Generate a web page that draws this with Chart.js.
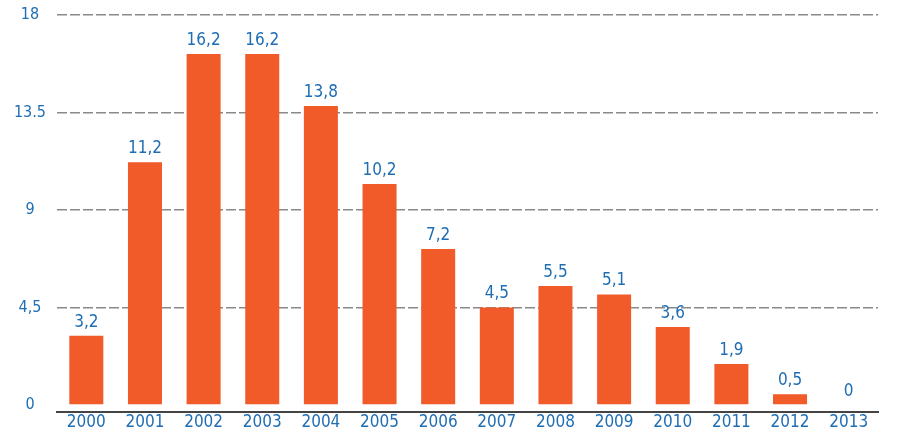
<!DOCTYPE html>
<html>
<head>
<meta charset="utf-8">
<script src="https://cdn.jsdelivr.net/npm/chart.js@4/dist/chart.umd.min.js"></script>
<style>
  html, body { margin: 0; padding: 0; background: #fff; }
  #wrap { width: 900px; height: 445px; }
</style>
</head>
<body>
<div id="wrap"><canvas id="bars"></canvas></div>
<script>
// data
const years = ['2000','2001','2002','2003','2004','2005','2006','2007','2008','2009','2010','2011','2012','2013'];
const values = [3.2, 11.2, 16.2, 16.2, 13.8, 10.2, 7.2, 4.5, 5.5, 5.1, 3.6, 1.9, 0.5, 0];
const tickValues = [0, 4.5, 9, 13.5, 18];
const tickLabels = ['0', '4,5', '9', '13.5', '18'];

const orange = '#f15a29';
const blue = '#1f6db3';
const font = "'Liberation Sans Narrow', 'DejaVu Sans Condensed', sans-serif";

// value labels above the bars, comma as decimal mark
const valueLabels = {
  id: 'valueLabels',
  afterDatasetsDraw(chart) {
    let ctx = chart.ctx;
    let meta = chart.getDatasetMeta(0);
    ctx.save();
    ctx.fillStyle = blue;
    ctx.font = '17px ' + font;
    ctx.textAlign = 'center';
    ctx.textBaseline = 'bottom';
    meta.data.forEach(function(bar, i) {
      let txt = String(values[i]).replace('.', ',');
      ctx.fillText(txt, bar.x, bar.y - 5);
    });
    ctx.restore();
  }
};

let ctx = document.getElementById('bars').getContext('2d');
let chart = new Chart(ctx, {
  type: 'bar',
  data: {
    labels: years,
    datasets: [{
      data: values,
      backgroundColor: orange,
      borderWidth: 0,
      barPercentage: 0.58,
      categoryPercentage: 1
    }]
  },
  options: {
    responsive: true,
    maintainAspectRatio: false,
    animation: false,
    layout: { padding: { top: 14, right: 22, left: 0, bottom: 11 } },
    plugins: {
      legend: { display: false },
      tooltip: { enabled: false }
    },
    scales: {
      x: {
        grid: { display: false, drawTicks: false, tickLength: 0 },
        border: { display: true, color: '#444', width: 2 },
        ticks: { color: blue, font: { family: font, size: 17 }, padding: 1, maxRotation: 0 }
      },
      y: {
        min: -0.3,
        max: 18,
        afterBuildTicks(axis) {
          axis.ticks = tickValues.map(v => ({ value: v }));
        },
        afterFit(axis) { axis.width = 57; },
        grid: {
          color: ctx => ctx.tick && ctx.tick.value === 0 ? 'rgba(0,0,0,0)' : '#8a8a8a',
          lineWidth: 1.5,
          drawTicks: false
        },
        border: { display: false, dash: [10, 3] },
        ticks: {
          color: blue,
          font: { family: font, size: 16, lineHeight: 0.5 },
          padding: 11,
          crossAlign: 'center',
          callback: (v, i) => tickLabels[i]
        }
      }
    }
  },
  plugins: [valueLabels]
});
</script>
</body>
</html>
